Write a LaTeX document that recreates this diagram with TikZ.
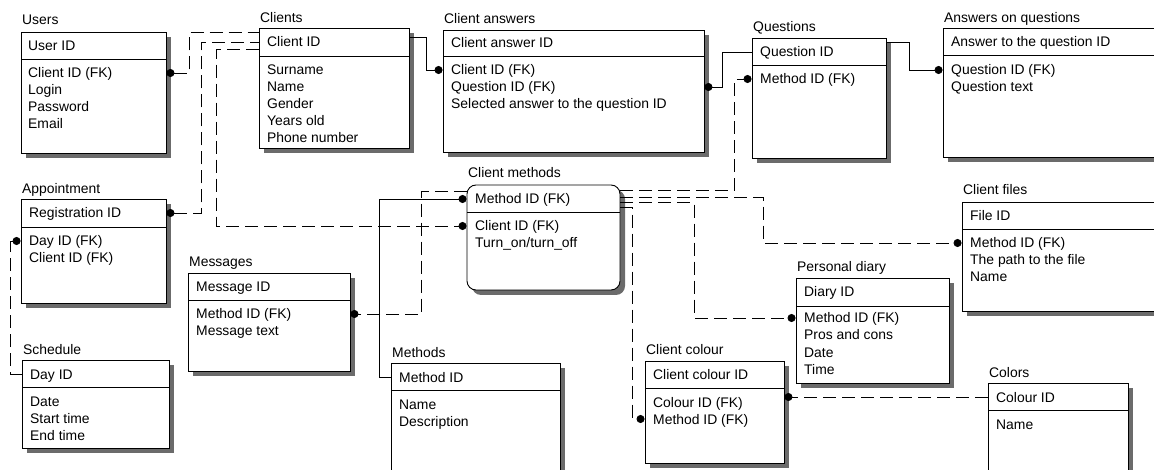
\documentclass[tikz,border=0pt]{standalone}
\usepackage{fontspec}
\setmainfont{Liberation Sans}
\usetikzlibrary{arrows.meta,calc,fit}

\tikzset{
  ent/.style={draw, fill=white, inner sep=0pt, line width=0.9pt},
  shade/.style={fill=black!58},
  txt/.style={anchor=west, inner sep=0pt, text height=10pt, text depth=0pt,
    font=\fontsize{13.9}{16}\selectfont},
  link/.style={line width=0.8pt},
  dashlink/.style={link, dash pattern=on 13pt off 6pt},
  fkstart/.style={{Circle[length=8pt,width=8pt]}-},
  fkend/.style={-{Circle[length=8pt,width=8pt]}},
}

% entity box with its drop shadow: name, x1, y1, x2, y2, y of the key separator
\newcommand\entity[7][]{%
  \fill[shade,#1] (#3+5,#4+5) rectangle (#5+5,#6+5);
  \node[ent,#1,fit={(#3,#4) (#5,#6)}] (#2) {};
  \draw[line width=0.9pt] (#3,#7) -- (#5,#7);}
% one text line: name, x, y, text
\newcommand\fld[4]{\node[txt] (#1) at (#2,#3) {#4};}

\begin{document}
\begin{tikzpicture}[x=1pt,y=-1pt]
\useasboundingbox (0,0) rectangle (1154,470);
\clip (0,0) rectangle (1154,470);
\fill[white] (0,0) rectangle (1154,470);

% ---------- Users
\entity{users}{21}{32}{166}{153}{59}
\fld{t-users}{22}{20}{Users}
\fld{u0}{28}{45.5}{User ID}
\fld{u1}{28}{73}{Client ID (FK)}
\fld{u2}{28}{90}{Login}
\fld{u3}{28}{107}{Password}
\fld{u4}{28}{124}{Email}

% ---------- Clients
\entity{clients}{259}{28}{409}{148}{56}
\fld{t-clients}{260}{18}{Clients}
\fld{c0}{267}{42}{Client ID}
\fld{c1}{267}{70}{Surname}
\fld{c2}{267}{87}{Name}
\fld{c3}{267}{104}{Gender}
\fld{c4}{267}{121}{Years old}
\fld{c5}{267}{138}{Phone number}

% ---------- Client answers
\entity{answers}{443}{30}{704}{152}{56}
\fld{t-answers}{444}{19}{Client answers}
\fld{ca0}{451}{43}{Client answer ID}
\fld{ca1}{451}{70}{Client ID (FK)}
\fld{ca2}{451}{87}{Question ID (FK)}
\fld{ca3}{451}{104}{Selected answer to the question ID}

% ---------- Questions
\entity{questions}{752}{38}{886}{158}{65}
\fld{t-questions}{753}{27}{Questions}
\fld{q0}{760}{51.5}{Question ID}
\fld{q1}{760}{79}{Method ID (FK)}

% ---------- Answers on questions
\entity{aoq}{943}{28}{1170}{157}{55}
\fld{t-aoq}{944}{18}{Answers on questions}
\fld{aq0}{951}{42}{Answer to the question ID}
\fld{aq1}{951}{70}{Question ID (FK)}
\fld{aq2}{951}{87}{Question text}

% ---------- Appointment
\entity{appt}{21}{199}{166}{303}{227}
\fld{t-appt}{22}{189}{Appointment}
\fld{ap0}{29}{213}{Registration ID}
\fld{ap1}{29}{241}{Day ID (FK)}
\fld{ap2}{29}{258}{Client ID (FK)}

% ---------- Schedule
\entity{sched}{22}{360}{169}{448}{387}
\fld{t-sched}{23}{349}{Schedule}
\fld{s0}{30}{374}{Day ID}
\fld{s1}{30}{401}{Date}
\fld{s2}{30}{418}{Start time}
\fld{s3}{30}{435}{End time}

% ---------- Messages
\entity{msgs}{188}{273}{350}{371}{300}
\fld{t-msgs}{189}{262}{Messages}
\fld{ms0}{196}{286.5}{Message ID}
\fld{ms1}{196}{314}{Method ID (FK)}
\fld{ms2}{196}{331}{Message text}

% ---------- Methods
\entity{methods}{391}{363}{560}{490}{390}
\fld{t-methods}{392}{352}{Methods}
\fld{m0}{399}{377}{Method ID}
\fld{m1}{399}{404}{Name}
\fld{m2}{399}{421}{Description}

% ---------- Client methods
\entity[rounded corners=9pt]{cmeth}{467}{185}{620}{290}{212}
\fld{t-cmeth}{468}{173}{Client methods}
\fld{cm0}{475}{199}{Method ID (FK)}
\fld{cm1}{475}{226}{Client ID (FK)}
\fld{cm2}{475}{243}{Turn\_on/turn\_off}

% ---------- Client colour
\entity{ccol}{645}{361}{784}{463}{388}
\fld{t-ccol}{646}{350}{Client colour}
\fld{cc0}{653}{374.5}{Client colour ID}
\fld{cc1}{653}{402}{Colour ID (FK)}
\fld{cc2}{653}{419}{Method ID (FK)}

% ---------- Personal diary
\entity{diary}{796}{278}{949}{383}{306}
\fld{t-diary}{797}{267}{Personal diary}
\fld{d0}{804}{292}{Diary ID}
\fld{d1}{804}{318}{Method ID (FK)}
\fld{d2}{804}{335}{Pros and cons}
\fld{d3}{804}{352}{Date}
\fld{d4}{804}{369}{Time}

% ---------- Client files
\entity{cfiles}{962}{202}{1170}{311}{229}
\fld{t-cfiles}{963}{190}{Client files}
\fld{cf0}{970}{215.5}{File ID}
\fld{cf1}{970}{243}{Method ID (FK)}
\fld{cf2}{970}{260}{The path to the file}
\fld{cf3}{970}{277}{Name}

% ---------- Colors
\entity{colors}{988}{383}{1128}{490}{410}
\fld{t-colors}{989}{372}{Colors}
\fld{co0}{996}{397}{Colour ID}
\fld{co1}{996}{424}{Name}

% ---------- relationships
\draw[dashlink,fkstart] (users.east |- u1) -- ++(23,0) |- ($(clients.north west)+(0,5)$);
\draw[dashlink,fkstart] (appt.east |- ap0) -- ++(35,0) |- (clients.west |- c0);
\draw[dashlink,fkend] ($(clients.north west)+(0,22)$) -- ++(-42,0) |- (cmeth.west |- cm1);
\draw[link,fkend] ($(clients.north east)+(0,10)$) -- ++(17,0) |- (answers.west |- ca1);
\draw[link,fkend] ($(questions.north west)+(0,15)$) -- ++(-29,0) |- (answers.east |- ca2);
\draw[dashlink,fkend] ($(cmeth.north east)+(0,6)$) -| ($(questions.west |- q1)+(-17,0)$) -- (questions.west |- q1);
\draw[link,fkend] ($(questions.north east)+(0,5)$) -- ++(23,0) |- (aoq.west |- aq1);
\draw[link,fkend] (methods.west |- m0) -- ++(-11,0) |- (cmeth.west |- cm0);
\draw[dashlink,fkend] ($(cmeth.north west)+(0,7)$) -- ++(-45,0) |- (msgs.east |- ms1);
\draw[dashlink,fkend] ($(cmeth.north east)+(0,13)$) -- ++(143,0) |- (cfiles.west |- cf1);
\draw[dashlink,fkend] ($(cmeth.north east)+(0,18)$) -- ++(74,0) |- (diary.west |- d1);
\draw[dashlink,fkend] ($(cmeth.north east)+(0,23)$) -- ++(12,0) |- (ccol.west |- cc2);
\draw[dashlink,fkend] (colors.west |- co0) -- (ccol.east |- co0);
\draw[dashlink,fkend] (sched.west |- s0) -- ++(-11,0) |- (appt.west |- ap1);
\end{tikzpicture}
\end{document}
